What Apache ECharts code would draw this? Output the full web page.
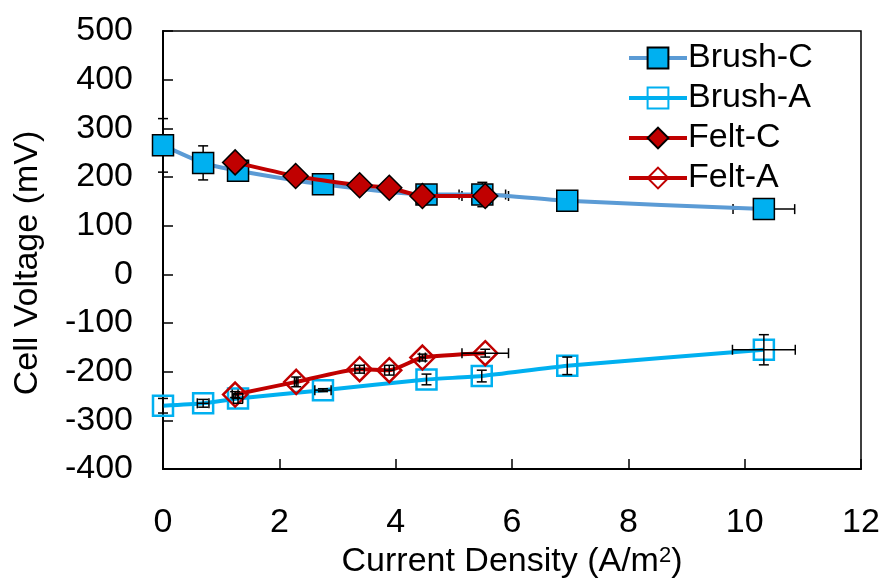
<!DOCTYPE html>
<html>
<head>
<meta charset="utf-8">
<script src="https://cdn.jsdelivr.net/npm/echarts@6/dist/echarts.min.js"></script>
<style>html,body{margin:0;padding:0;background:#fff}#c{width:884px;height:583px}</style>
</head>
<body>
<div id="c"></div>
<script>
// ---- data ----
var brushCx = [0, 0.69, 1.29, 2.75, 4.53, 5.49, 6.95, 10.33];
var brushCy = [265, 229, 213, 185, 164, 164, 151, 134];
var brushCxErr = [0, 0, 0, 0, 0, 0.40, 0, 0.53];
var brushCyErr = [55, 35, 18, 10, 15, 25, 8, 10];

var brushAx = [0, 0.69, 1.29, 2.75, 4.53, 5.48, 6.95, 10.33];
var brushAy = [-270, -265, -255, -238, -216, -209, -188, -155];
var brushAxErr = [0, 0.1, 0.08, 0.14, 0, 0, 0, 0.54];
var brushAyErr = [15, 8, 10, 3, 11, 12, 18, 31];

var feltCx = [1.24, 2.28, 3.38, 3.89, 4.46, 5.54];
var feltCy = [230, 202, 183, 178, 161, 161];
var feltCxErr = [0, 0, 0, 0, 0, 0.40];
var feltCyErr = [5, 5, 5, 5, 5, 8];

var feltAx = [1.24, 2.29, 3.38, 3.89, 4.46, 5.54];
var feltAy = [-247, -221, -195, -197, -171, -162];
var feltAxErr = [0.05, 0.03, 0.08, 0.08, 0.05, 0.40];
var feltAyErr = [6, 10, 8, 10, 7, 8];

var xTicks = [0, 2, 4, 6, 8, 10, 12];
var yTicks = [-400, -300, -200, -100, 0, 100, 200, 300, 400, 500];

function pts(xs, ys) { return xs.map(function (x, i) { return [x, ys[i]]; }); }
function errs(xs, ys, ex, ey) { return xs.map(function (x, i) { return [x, ys[i], ex[i], ey[i]]; }); }

var FONT = 'Liberation Sans, Arial, sans-serif';
var FS = 34;

function errRender(params, api) {
  var x = api.value(0), y = api.value(1), ex = api.value(2), ey = api.value(3);
  var c = api.coord([x, y]);
  var cap = 5;
  var children = [];
  var st = { stroke: '#000', lineWidth: 1.5 };
  if (ey > 0) {
    var t = api.coord([x, y + ey]), b = api.coord([x, y - ey]);
    children.push({ type: 'line', shape: { x1: c[0], y1: t[1], x2: c[0], y2: b[1] }, style: st });
    children.push({ type: 'line', shape: { x1: c[0] - cap, y1: t[1], x2: c[0] + cap, y2: t[1] }, style: st });
    children.push({ type: 'line', shape: { x1: c[0] - cap, y1: b[1], x2: c[0] + cap, y2: b[1] }, style: st });
  }
  if (ex > 0) {
    var l = api.coord([x - ex, y]), r = api.coord([x + ex, y]);
    children.push({ type: 'line', shape: { x1: l[0], y1: c[1], x2: r[0], y2: c[1] }, style: st });
    children.push({ type: 'line', shape: { x1: l[0], y1: c[1] - cap, x2: l[0], y2: c[1] + cap }, style: st });
    children.push({ type: 'line', shape: { x1: r[0], y1: c[1] - cap, x2: r[0], y2: c[1] + cap }, style: st });
  }
  return { type: 'group', children: children };
}

var chart = echarts.init(document.getElementById('c'), null, { renderer: 'canvas' });
chart.setOption({
  animation: false,
  backgroundColor: '#fff',
  textStyle: { fontFamily: FONT },
  grid: { left: 163, right: 23, top: 31, bottom: 114, containLabel: false, outerBoundsMode: 'none',
          show: true, borderColor: '#000', borderWidth: 1.5, backgroundColor: 'transparent' },
  legend: {
    left: 622, top: 36, orient: 'vertical', itemWidth: 58, itemHeight: 26, itemGap: 6,
    textStyle: { fontSize: FS, lineHeight: 28, color: '#000', fontFamily: FONT, padding: [0, 0, 0, -4] },
    data: [
      { name: 'Brush-C', lineStyle: { width: 4, color: '#5B9BD5' } },
      { name: 'Brush-A', lineStyle: { width: 4, color: '#00B0F0' } },
      { name: 'Felt-C', lineStyle: { width: 4, color: '#C00000' } },
      { name: 'Felt-A', lineStyle: { width: 4, color: '#C00000' } }
    ]
  },
  xAxis: {
    type: 'value', min: xTicks[0], max: xTicks[xTicks.length - 1], interval: 2,
    name: '{a|Current Density (A/m}{s|2}{a|)}', nameLocation: 'middle', nameGap: 76,
    nameTextStyle: { rich: { a: { fontSize: FS, color: '#000', fontFamily: FONT }, s: { fontSize: 22, color: '#000', fontFamily: FONT, verticalAlign: 'top', padding: [0, 0, 12, 0] } } },
    axisLine: { onZero: false, lineStyle: { color: '#000', width: 2 } },
    axisTick: { inside: true, length: 10, lineStyle: { color: '#000', width: 1.5 } },
    axisLabel: { fontSize: FS, color: '#000', margin: 37, fontFamily: FONT },
    splitLine: { show: false }
  },
  yAxis: {
    type: 'value', min: yTicks[0], max: yTicks[yTicks.length - 1], interval: 100,
    name: 'Cell Voltage (mV)', nameLocation: 'middle', nameGap: 118,
    nameTextStyle: { fontSize: FS, color: '#000', fontFamily: FONT, padding: [0, 26, 0, 0] },
    axisLine: { show: true, onZero: false, lineStyle: { color: '#000', width: 2 } },
    axisTick: { show: true, inside: true, length: 10, lineStyle: { color: '#000', width: 1.5 } },
    axisLabel: { fontSize: FS, color: '#000', margin: 30, fontFamily: FONT },
    splitLine: { show: false }
  },
  series: [
    { type: 'custom', name: 'errFilled', z: 1, renderItem: errRender, encode: { x: 0, y: 1 },
      data: errs(brushCx, brushCy, brushCxErr, brushCyErr).concat(errs(feltCx, feltCy, feltCxErr, feltCyErr)), silent: true },
    { type: 'line', name: 'Brush-C', data: pts(brushCx, brushCy), smooth: 0.2, z: 2,
      lineStyle: { color: '#5B9BD5', width: 4 }, symbol: 'rect', symbolSize: 21,
      itemStyle: { color: '#00B0F0', borderColor: '#000', borderWidth: 1.5 } },
    { type: 'line', name: 'Brush-A', data: pts(brushAx, brushAy), smooth: 0.2, z: 3,
      lineStyle: { color: '#00B0F0', width: 4 }, symbol: 'rect', symbolSize: 20,
      itemStyle: { color: 'rgba(255,255,255,0)', borderColor: '#00B0F0', borderWidth: 2.5 } },
    { type: 'line', name: 'Felt-C', data: pts(feltCx, feltCy), smooth: 0.2, z: 4,
      lineStyle: { color: '#C00000', width: 4 }, symbol: 'diamond', symbolSize: 25,
      itemStyle: { color: '#C00000', borderColor: '#000', borderWidth: 1.5 } },
    { type: 'line', name: 'Felt-A', data: pts(feltAx, feltAy), smooth: 0.2, z: 5,
      lineStyle: { color: '#C00000', width: 4 }, symbol: 'diamond', symbolSize: 24,
      itemStyle: { color: 'rgba(255,255,255,0)', borderColor: '#C00000', borderWidth: 2.5 } },
    { type: 'custom', name: 'errHollow', z: 6, renderItem: errRender, encode: { x: 0, y: 1 },
      data: errs(brushAx, brushAy, brushAxErr, brushAyErr).concat(errs(feltAx, feltAy, feltAxErr, feltAyErr)), silent: true }
  ]
});
</script>
</body>
</html>
